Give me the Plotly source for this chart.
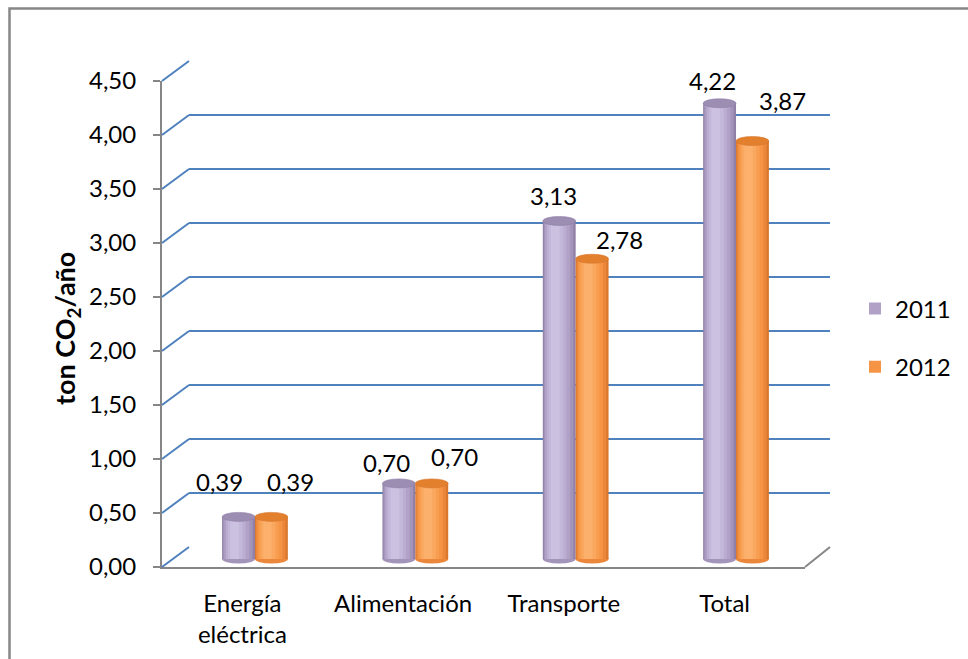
import plotly.graph_objects as go

# ---------------- data ----------------
categories = ["Energía<br>eléctrica", "Alimentación", "Transporte", "Total"]
series_names = ["2011", "2012"]
values_2011 = [0.39, 0.70, 3.13, 4.22]
values_2012 = [0.39, 0.70, 2.78, 3.87]
y_tickvals = [0.0, 0.5, 1.0, 1.5, 2.0, 2.5, 3.0, 3.5, 4.0, 4.5]
y_title = "<b>ton CO<sub>2</sub>/año</b>"

# ---------------- style / geometry ----------------
W, H = 968, 659
K = 108.0                      # px per unit
YMAX = 4.5
FRONT = dict(left=162, right=805, zero=567)
BACK = dict(left=189, right=830, zero=547)
BARS = dict(left=174.8, right=816.2, zero=559)
FONT = "Lato"
FS = 24
GRID = "#4F81BD"
AXC = "#868686"
BAR_W = 0.205                  # width of one cylinder in category units
CAP_E = 4.5 / K                # half height of ellipse caps (value units)

colors = {
    "2011": dict(layers=["#9080A7", "#A394BA", "#B1A1C7", "#BBADD2", "#C4B8DA", "#CCC1E0"],
                 cap="#9C8DB3", legend="#B3A2C7"),
    "2012": dict(layers=["#D9772D", "#EA873A", "#F59444", "#F89E51", "#FAA85F", "#FBB06B"],
                 cap="#E3802E", legend="#F79646"),
}
layers = [(1.00, 0.00), (0.90, -0.02), (0.76, -0.05), (0.60, -0.08), (0.44, -0.10), (0.26, -0.12)]
label_xshift = {"2011": [-19, -12, -6, -7], "2012": [19, 23, 27, 30]}
label_yshift = {"2011": [35, 21, 25, 23], "2012": [35, 27, 19, 41]}


def xdom(d):
    return [d["left"] / W, d["right"] / W]


def ydom(d, vmin, vmax):
    bottom = d["zero"] - vmin * K
    top = d["zero"] - vmax * K
    return [1 - bottom / H, 1 - top / H]


def fmt(v):
    return f"{v:.2f}".replace(".", ",")


fig = go.Figure()

# invisible anchor traces so each subplot exists
fig.add_trace(go.Scatter(x=[0, 1], y=[0, YMAX], xaxis="x", yaxis="y", mode="markers",
                         marker=dict(opacity=0), showlegend=False, hoverinfo="skip"))
fig.add_trace(go.Scatter(x=categories, y=values_2011, xaxis="x2", yaxis="y2", mode="markers",
                         marker=dict(opacity=0), showlegend=False, hoverinfo="skip"))

series = {"2011": values_2011, "2012": values_2012}
centers = {"2011": -BAR_W / 2, "2012": BAR_W / 2}

for name in series_names:
    vals = series[name]
    c = centers[name]
    for li, (frac, shift) in enumerate(layers):
        w = BAR_W * frac
        cc = c + shift * BAR_W
        fig.add_trace(go.Bar(
            x=categories, y=vals, xaxis="x3", yaxis="y3",
            width=w, offset=cc - w / 2,
            marker=dict(color=colors[name]["layers"][li], line=dict(width=0)),
            name=name, legendgroup=name,
            showlegend=(li == 2),
            hovertemplate=name + ": %{y}<extra></extra>",
        ))

shapes = []
annotations = []
for name in series_names:
    vals = series[name]
    c = centers[name]
    for i, v in enumerate(vals):
        shapes.append(dict(type="circle", xref="x3", yref="y3", layer="below",
                           x0=i + c - BAR_W / 2, x1=i + c + BAR_W / 2,
                           y0=-CAP_E, y1=CAP_E,
                           fillcolor=colors[name]["layers"][1], line=dict(width=0)))
        shapes.append(dict(type="circle", xref="x3", yref="y3", layer="above",
                           x0=i + c - BAR_W / 2, x1=i + c + BAR_W / 2,
                           y0=v - CAP_E, y1=v + CAP_E,
                           fillcolor=colors[name]["cap"],
                           line=dict(width=0.6, color=colors[name]["layers"][0])))
        annotations.append(dict(x=i + c, y=v, xref="x3", yref="y3", text=fmt(v),
                                showarrow=False, xanchor="center", yanchor="middle",
                                xshift=label_xshift[name][i], yshift=label_yshift[name][i],
                                font=dict(family=FONT, size=FS, color="black")))

fy0, fy1 = ydom(FRONT, 0, YMAX)
by0, by1 = ydom(BACK, 0, YMAX)
for t in y_tickvals:
    shapes.append(dict(type="line", xref="paper", yref="paper",
                       x0=FRONT["left"] / W, x1=BACK["left"] / W,
                       y0=fy0 + (fy1 - fy0) * t / YMAX, y1=by0 + (by1 - by0) * t / YMAX,
                       line=dict(color=GRID, width=2)))
shapes.append(dict(type="line", xref="paper", yref="paper",
                   x0=FRONT["right"] / W, x1=BACK["right"] / W, y0=fy0, y1=by0,
                   line=dict(color=AXC, width=2)))
shapes.append(dict(type="rect", xref="paper", yref="paper",
                   x0=9.5 / W, x1=1.05, y0=-0.05, y1=1 - 8.5 / H,
                   line=dict(color=AXC, width=2.5), fillcolor="rgba(0,0,0,0)"))

annotations.append(dict(x=66 / W, y=1 - 329 / H, xref="paper", yref="paper",
                        xanchor="center", yanchor="middle",
                        text=y_title, textangle=-90, showarrow=False,
                        font=dict(family=FONT, size=27, color="black")))

fig.update_layout(
    width=W, height=H, margin=dict(l=0, r=0, t=0, b=0, pad=0, autoexpand=False),
    paper_bgcolor="white", plot_bgcolor="rgba(0,0,0,0)",
    separators=",.", barmode="overlay",
    font=dict(family=FONT, size=FS, color="black"),
    shapes=shapes, annotations=annotations,
    xaxis=dict(domain=xdom(BACK), range=[0, 1], visible=False),
    yaxis=dict(domain=ydom(BACK, -0.005, YMAX + 0.005), range=[-0.005, YMAX + 0.005],
               tickvals=y_tickvals, showticklabels=False, showgrid=True,
               gridcolor=GRID, gridwidth=2, zeroline=False, showline=False, ticks=""),
    xaxis2=dict(domain=xdom(FRONT), anchor="y2", type="category",
                categoryorder="array", categoryarray=categories, range=[-0.5, 3.5],
                showline=True, linecolor=AXC, linewidth=2, ticks="", showgrid=False,
                zeroline=False, tickfont=dict(family=FONT, size=FS, color="black"),
                ticklabelstandoff=14),
    yaxis2=dict(domain=ydom(FRONT, 0, YMAX), anchor="x2", range=[0, YMAX],
                tickvals=y_tickvals, tickformat=".2f", showgrid=False, zeroline=False,
                showline=True, linecolor=AXC, linewidth=2, ticks="outside", ticklen=7,
                tickcolor=AXC, tickwidth=2, ticklabelstandoff=12,
                tickfont=dict(family=FONT, size=FS, color="black")),
    xaxis3=dict(domain=xdom(BARS), anchor="y3", type="category",
                categoryorder="array", categoryarray=categories, range=[-0.5, 3.5],
                visible=False),
    yaxis3=dict(domain=ydom(BARS, -0.4, 4.8), anchor="x3", range=[-0.4, 4.8],
                visible=False),
    legend=dict(x=855 / W, y=1 - 338 / H, xanchor="left", yanchor="middle",
                font=dict(family=FONT, size=FS, color="black"),
                tracegroupgap=24, bgcolor="rgba(0,0,0,0)"),
)

fig.write_html("out.html", config={"displayModeBar": False},
               post_script="document.body.style.margin='0';")
